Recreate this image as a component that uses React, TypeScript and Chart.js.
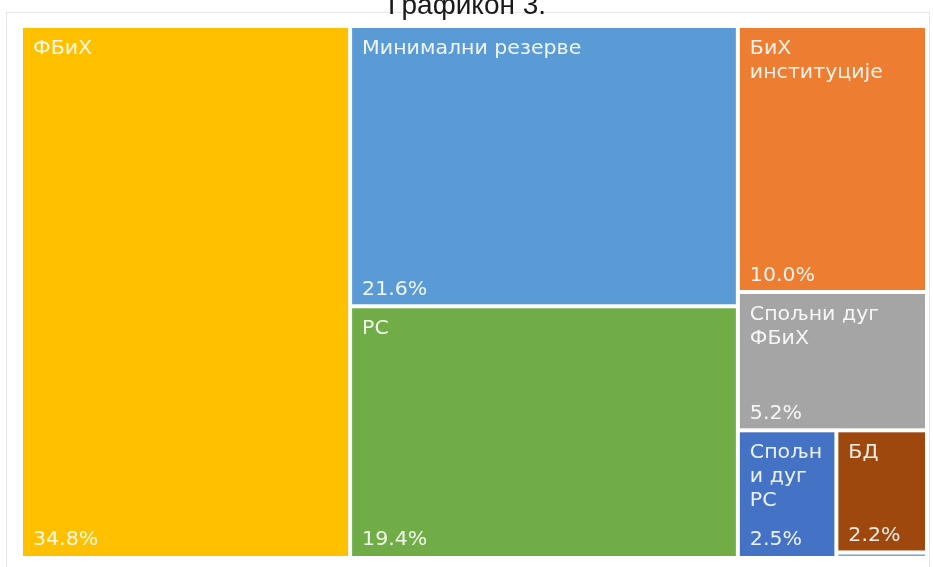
import React, { useEffect, useRef } from "react";
import { Chart, registerables } from "chart.js";

Chart.register(...registerables);

const categories: string[][] = [
  ["ФБиХ"],
  ["Минимални резерве"],
  ["РС"],
  ["БиХ", "институције"],
  ["Спољни дуг", "ФБиХ"],
  ["Спољн", "и дуг", "РС"],
  ["БД"],
  [""],
];
const values: number[] = [34.8, 21.6, 19.4, 10.0, 5.2, 2.5, 2.2, 0.1];
const valueLabels: string[] = ["34.8%", "21.6%", "19.4%", "10.0%", "5.2%", "2.5%", "2.2%", ""];
const colors: string[] = ["#FFC000", "#5B9BD5", "#70AD47", "#ED7D31", "#A5A5A5", "#4472C4", "#9E480E", "#7EA6D8"];
const titleText = "Графикон 3.";

const AREA_W = 906;
const AREA_H = 532;

type Rect = { x: number; y: number; w: number; h: number };

function squarify(vals: number[], rect: Rect): Rect[] {
  const total = vals.reduce((a, b) => a + b, 0);
  const scale = (rect.w * rect.h) / total;
  const areas = vals.map((v) => v * scale);
  const out: Rect[] = [];
  const r = { ...rect };
  const worst = (row: number[], side: number) => {
    const s = row.reduce((a, b) => a + b, 0);
    const mx = Math.max(...row);
    const mn = Math.min(...row);
    return Math.max((side * side * mx) / (s * s), (s * s) / (side * side * mn));
  };
  let i = 0;
  while (i < areas.length) {
    const side = Math.min(r.w, r.h);
    const row = [areas[i]];
    let j = i + 1;
    while (j < areas.length && worst([...row, areas[j]], side) <= worst(row, side)) {
      row.push(areas[j]);
      j++;
    }
    const s = row.reduce((a, b) => a + b, 0);
    if (r.w >= r.h) {
      const cw = s / r.h;
      let yy = r.y;
      for (const a of row) {
        const h = a / cw;
        out.push({ x: r.x, y: yy, w: cw, h });
        yy += h;
      }
      r.x += cw;
      r.w -= cw;
    } else {
      const rh = s / r.w;
      let xx = r.x;
      for (const a of row) {
        const w = a / rh;
        out.push({ x: xx, y: r.y, w, h: rh });
        xx += w;
      }
      r.y += rh;
      r.h -= rh;
    }
    i = j;
  }
  return out;
}

const treemapPlugin = {
  id: "treemapCells",
  beforeDraw(chart: any) {
    const ctx = chart.ctx;
    ctx.save();
    ctx.fillStyle = "#ffffff";
    ctx.fillRect(0, 0, chart.width, chart.height);
    ctx.strokeStyle = "#e4e8ec";
    ctx.lineWidth = 1;
    ctx.strokeRect(6.5, 12.5, 923, 600);
    ctx.fillStyle = "#1a1a1a";
    ctx.font = "28px 'Liberation Sans', sans-serif";
    ctx.textAlign = "center";
    ctx.textBaseline = "alphabetic";
    ctx.fillText(titleText, 467, 14);
    ctx.restore();
  },
  afterDatasetsDraw(chart: any) {
    const ctx = chart.ctx;
    const xs = chart.scales.x;
    const ys = chart.scales.y;
    const rects = squarify(values, { x: 0, y: 0, w: AREA_W, h: AREA_H });
    const gap = 2;
    const chartBottom = ys.getPixelForValue(AREA_H);
    ctx.save();
    rects.forEach((r, i) => {
      const x0 = xs.getPixelForValue(r.x) + gap;
      const x1 = xs.getPixelForValue(r.x + r.w) - gap;
      const y0 = ys.getPixelForValue(r.y) + gap;
      const y1 = ys.getPixelForValue(r.y + r.h) - gap;
      if (x1 <= x0 || y1 <= y0) return;
      ctx.fillStyle = colors[i];
      ctx.fillRect(x0, y0, x1 - x0, y1 - y0);
      ctx.fillStyle = "rgba(255,255,255,0.9)";
      ctx.font = "19px 'DejaVu Sans', sans-serif";
      ctx.textAlign = "left";
      ctx.textBaseline = "alphabetic";
      const sx = 1.08;
      categories[i].forEach((line, k) => {
        if (!line) return;
        ctx.save();
        ctx.translate(x0 + 10, y0 + 26 + k * 24);
        ctx.scale(sx, 1);
        ctx.fillText(line, 0, 0);
        ctx.restore();
      });
      if (valueLabels[i]) {
        const base = Math.min(y1 - 9, chartBottom - 13);
        ctx.save();
        ctx.translate(x0 + 10, base);
        ctx.scale(sx, 1);
        ctx.fillText(valueLabels[i], 0, 0);
        ctx.restore();
      }
    });
    ctx.restore();
  },
};

export default function App() {
  const ref = useRef<HTMLCanvasElement | null>(null);
  useEffect(() => {
    document.body.style.margin = "0";
    if (!ref.current) return;
    const rects = squarify(values, { x: 0, y: 0, w: AREA_W, h: AREA_H });
    const chart = new Chart(ref.current, {
      type: "scatter",
      data: {
        datasets: categories.map((c, i) => ({
          label: c.join(" "),
          data: [{ x: rects[i].x + rects[i].w / 2, y: rects[i].y + rects[i].h / 2 }],
          pointRadius: 0,
          backgroundColor: colors[i],
        })),
      },
      options: {
        animation: false,
        responsive: false,
        maintainAspectRatio: false,
        layout: { padding: { left: 21, top: 26, right: 6, bottom: 9 } },
        scales: {
          x: { type: "linear", min: 0, max: AREA_W, display: false },
          y: { type: "linear", min: 0, max: AREA_H, reverse: true, display: false },
        },
        plugins: { legend: { display: false }, tooltip: { enabled: false }, title: { display: false } },
      },
      plugins: [treemapPlugin],
    });
    return () => chart.destroy();
  }, []);
  return (
    <div style={{ width: 933, height: 567 }}>
      <canvas ref={ref} width={933} height={567} style={{ display: "block", width: 933, height: 567 }} />
    </div>
  );
}
